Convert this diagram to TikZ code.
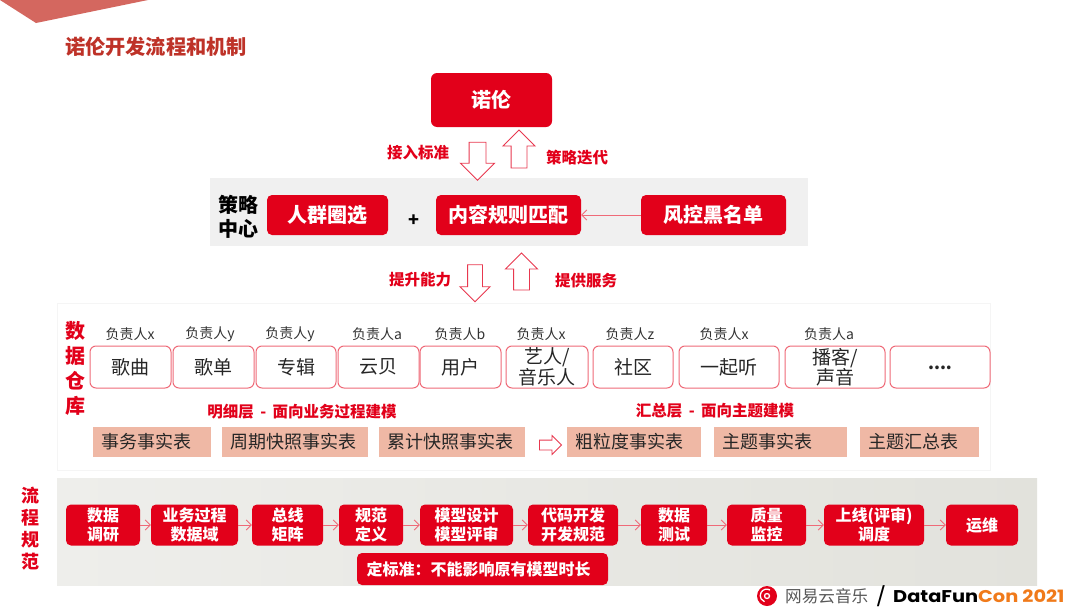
\documentclass[tikz,border=0pt]{standalone}
\usepackage{fontspec}
\setmainfont{Noto Sans CJK SC}
\newfontfamily\logofont[FakeStretch=1.14]{Poppins}
\usetikzlibrary{shapes.arrows,arrows.meta,positioning}
\definecolor{nred}{HTML}{E2001A}
\definecolor{nline}{HTML}{EF6A78}
\definecolor{nsalmon}{HTML}{EFB8A5}
\definecolor{ncorner}{HTML}{D4675F}
\definecolor{ntitle}{HTML}{BE3228}
\definecolor{ngrey}{HTML}{F0F0F0}
\definecolor{nframe}{HTML}{F5F5F5}
\definecolor{nbandl}{HTML}{EEEEEB}
\definecolor{nbandr}{HTML}{E2E2DC}
\definecolor{norange}{HTML}{F07A1A}
\definecolor{narrow}{HTML}{E8384F}
\newcommand{\fs}[1]{\fontsize{#1}{\dimexpr #1pt*6/5\relax}\selectfont}
\tikzset{
 x=1pt,y=-1pt,
 bigbox/.style={fill=nred,rounded corners=5pt,text=white,font=\fs{20}\bfseries,inner sep=0,align=center},
 procbox/.style={fill=nred,rounded corners=5pt,text=white,font=\fontsize{16}{19}\selectfont\bfseries,inner sep=0,align=center},
 domainbox/.style={draw=nline,line width=1pt,fill=white,rounded corners=6pt,text=black!85,font=\fontsize{19}{20.5}\selectfont,inner sep=0,align=center},
 tablebox/.style={fill=nsalmon,text=black!85,font=\fs{18},inner ysep=0,inner xsep=8pt,align=left},
 ownerlab/.style={font=\fs{14},text=black!80,inner sep=0},
 redlab/.style={font=\fs{15.5}\bfseries,text=nred,inner sep=0},
 vertlab/.style={font=\fontsize{20}{25}\selectfont\bfseries,text=nred,inner sep=0,align=center},
 blockarrow/.style={shape=single arrow,draw=narrow,fill=white,line width=.9pt,inner xsep=0,inner ysep=8pt,single arrow head extend=8.5pt,single arrow tip angle=90},
 flow/.style={draw=nline,line width=.9pt,-{Straight Barb[length=5pt,width=10pt]}},
}
\begin{document}
\begin{tikzpicture}
\useasboundingbox (0,0) rectangle (1080,608);
\fill[white] (0,0) rectangle (1080,608);
\fill[ncorner] (0,0) -- (148,0) -- (36,23) -- cycle;
\node[font=\fs{20.2}\bfseries,text=ntitle,anchor=west,inner sep=0] (title) at (65,47) {诺伦开发流程和机制};

% top box
\node[fill=nred,rounded corners=6pt,text=white,font=\fs{20}\bfseries,minimum width=121,minimum height=54,inner sep=0] (nuolun) at (491.5,100) {诺伦};

% strategy center
\fill[ngrey] (210,178) rectangle (808,246);
\node[font=\fontsize{20}{24}\selectfont\bfseries,align=center,inner sep=0,text=black] (celue) at (238,217) {策略\\中心};
\node[bigbox,minimum width=121,minimum height=40] (renqun) at (327.5,215) {人群圈选};
\node[font=\fs{18}\bfseries,inner sep=0] (plus) at (414,221) {+};
\node[bigbox,minimum width=145,minimum height=40] (neirong) at (508.5,215) {内容规则匹配};
\node[bigbox,minimum width=145,minimum height=40] (fengkong) at (713.5,215) {风控黑名单};
\draw[flow] (fengkong) -- (neirong);

% arrows between layers
\node[blockarrow,rotate=-90,minimum height=38,minimum width=33] (d1) at (477.5,157) {};
\node[blockarrow,rotate=90,minimum height=38,minimum width=31,inner ysep=7.5pt,single arrow head extend=8pt] (u1) at (519,153) {};
\node[redlab] (l1) at (418,153) {接入标准};
\node[redlab] (l2) at (577,158) {策略迭代};
\node[blockarrow,rotate=-90,minimum height=37,minimum width=29,inner ysep=7pt,single arrow head extend=7.5pt] (d2) at (475,279.5) {};
\node[blockarrow,rotate=90,minimum height=37,minimum width=31,inner ysep=7.5pt,single arrow head extend=8pt] (u2) at (521.5,275.5) {};
\node[redlab] (l3) at (420,280) {提升能力};
\node[redlab] (l4) at (586,281) {提供服务};

% data warehouse
\draw[draw=nframe,fill=white] (57,303) rectangle (990,470);
\node[vertlab] (dw) at (75,368) {数\\据\\仓\\库};
\foreach \n/\a/\b/\t/\o/\c in {a/90/171/歌曲/负责人x/130,b/173/254/歌单/负责人y/210,c/256/336/专辑/负责人y/290,d/338/419/云贝/负责人a/377,e/420/501/用户/负责人b/460,f/506/588/{艺人/\\音乐人}/负责人x/541,g/593/673/社区/负责人z/630,h/679/779/一起听/负责人x/724,i/785/885/{播客/\\声音}/负责人a/829}{
  \node[domainbox,minimum width=\b-\a,minimum height=42] (dom\n) at ({(\a+\b)/2},367) {\t};
  \node[ownerlab] (own\n) at (\c,334) {\o};
}
\node[domainbox,minimum width=100,minimum height=42,font=\fontsize{17}{20}\selectfont\bfseries] (domj) at (940,367) {\raisebox{-5pt}{....}};
\node[redlab] (mx) at (302,412) {明细层\hspace{6.5pt}-\hspace{6.5pt}面向业务过程建模};
\node[redlab] (hz) at (715,411) {汇总层\hspace{6.5pt}-\hspace{6.5pt}面向主题建模};
\foreach \n/\a/\b/\t in {a/93/211/事务事实表,b/222/368/周期快照事实表,c/379/525/累计快照事实表,d/567/701/粗粒度事实表,e/714/847/主题事实表,f/860/979/主题汇总表}{
  \node[tablebox,text width=\b-\a-16,minimum height=30] (tab\n) at ({(\a+\b)/2},442) {\t};
}
\node[blockarrow,minimum height=22,minimum width=18,inner ysep=4.5pt,single arrow head extend=4.5pt,line width=.8pt] (r1) at (548,445) {};

% process
\shade[left color=nbandl,right color=nbandr] (57,478) rectangle (1037,585);
\node[font=\fontsize{18}{22}\selectfont\bfseries,text=nred,inner sep=0,align=center] (lc) at (30,529) {流\\程\\规\\范};
\foreach \n/\a/\b/\t in {a/66/140/{数据\\调研},b/151/238/{业务过程\\数据域},c/252/323/{总线\\矩阵},d/339/403/{规范\\定义},e/420/513/{模型设计\\模型评审},f/528/618/{代码开发\\开发规范},g/641/707/{数据\\测试},h/727/806/{质量\\监控},i/824/924/{上线(评审)\\调度},j/946/1018/运维}{
  \node[procbox,minimum width=\b-\a,minimum height=41] (p\n) at ({(\a+\b)/2},525) {\t};
}
\foreach \s/\e in {a/b,b/c,c/d,d/e,e/f,f/g,g/h,h/i,i/j}{\draw[flow] (p\s) -- (p\e);}
\node[fill=nred,rounded corners=5pt,text=white,font=\fs{16}\bfseries,minimum width=251,minimum height=32,inner sep=0] (std) at (482.5,569) {定标准：不能影响原有模型时长\hspace*{8pt}};

% logo
\fill[white] (755,586) rectangle (1080,608);
\fill[nred] (767,596) circle (10);
\draw[white,line width=1.3pt] (767,596) circle (2.5);
\draw[white,line width=1.3pt] (770,590) arc (-60:-250:6.5);
\node[font=\fs{16.6},text=black!65,anchor=west,inner sep=0] (wy) at (785,596) {网易云音乐};
\node[font=\logofont\fontsize{19}{20}\selectfont,text=black,inner sep=0] (sl) at (881,596) {/};
\node[font=\logofont\fontsize{17}{20}\selectfont\bfseries,anchor=west,inner sep=0] (df) at (893,596) {DataFun\textcolor{norange}{Con 2021}};
\end{tikzpicture}
\end{document}
